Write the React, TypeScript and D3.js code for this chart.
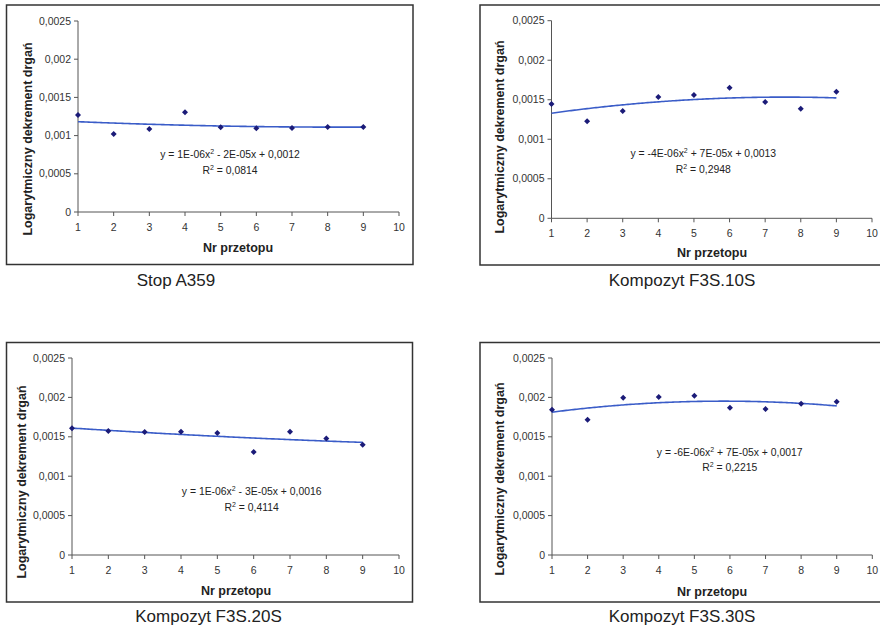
import React from "react";
import * as d3 from "d3";

// Melt number (Nr przetopu) and logarithmic damping decrement per material
const meltNumbers = [1, 2, 3, 4, 5, 6, 7, 8, 9];
const xTickValues = [1, 2, 3, 4, 5, 6, 7, 8, 9, 10];
const yTickValues = [0, 0.0005, 0.001, 0.0015, 0.002, 0.0025];
const yTickLabels = ["0", "0,0005", "0,001", "0,0015", "0,002", "0,0025"];

const stopA359 = [0.00127, 0.00102, 0.001086, 0.001305, 0.001108, 0.001095, 0.0011, 0.001113, 0.001113];
const f3s10s = [0.001446, 0.001227, 0.001357, 0.001535, 0.00156, 0.001653, 0.001471, 0.001387, 0.001602];
const f3s20s = [0.001607, 0.001574, 0.001561, 0.001565, 0.001548, 0.001307, 0.001565, 0.00148, 0.0014];
const f3s30s = [0.001844, 0.001717, 0.001997, 0.002005, 0.002022, 0.00187, 0.001853, 0.00192, 0.001946];

const captions = ["Stop A359", "Kompozyt F3S.10S", "Kompozyt F3S.20S", "Kompozyt F3S.30S"];
const equations = [
  ["y = 1E-06x", " - 2E-05x + 0,0012", "0,0814"],
  ["y = -4E-06x", " + 7E-05x + 0,0013", "0,2948"],
  ["y = 1E-06x", " - 3E-05x + 0,0016", "0,4114"],
  ["y = -6E-06x", " + 7E-05x + 0,0017", "0,2215"],
];

const FONT = "'Liberation Sans', Arial, sans-serif";
const MARKER = "#1b1b78";
const TREND = "#3a5cc8";
const AXIS = "#555";

// Least-squares quadratic fit (order-2 polynomial trendline)
function quadFit(xs: number[], ys: number[]) {
  const S = (p: number) => d3.sum(xs, (x) => Math.pow(x, p));
  const T = (p: number) => d3.sum(xs, (x, i) => Math.pow(x, p) * ys[i]);
  const A = [
    [S(4), S(3), S(2), T(2)],
    [S(3), S(2), S(1), T(1)],
    [S(2), S(1), xs.length, T(0)],
  ];
  for (let c = 0; c < 3; c++) {
    for (let r = c + 1; r < 3; r++) {
      const f = A[r][c] / A[c][c];
      for (let k = c; k < 4; k++) A[r][k] -= f * A[c][k];
    }
  }
  const sol = [0, 0, 0];
  for (let r = 2; r >= 0; r--) {
    let s = A[r][3];
    for (let k = r + 1; k < 3; k++) s -= A[r][k] * sol[k];
    sol[r] = s / A[r][r];
  }
  return (x: number) => sol[0] * x * x + sol[1] * x + sol[2];
}

type Layout = {
  box: [number, number, number, number];
  x0: number; x10: number; yTop: number; yBot: number;
  eqX: number; eqY: number;
  xtX: number; xtY: number;
  ytX: number; ytY: number;
  capX: number; capY: number;
};

const layouts: Layout[] = [
  { box: [6.5, 5, 406.5, 259.5], x0: 78, x10: 399, yTop: 21, yBot: 212, eqX: 230, eqY: 158, xtX: 238, xtY: 252, ytX: 28, ytY: 139, capX: 176, capY: 286 },
  { box: [480, 5, 410, 260], x0: 551.5, x10: 872, yTop: 20.7, yBot: 218.3, eqX: 703.3, eqY: 157.3, xtX: 712, xtY: 256.5, ytX: 500, ytY: 137, capX: 682, capY: 286 },
  { box: [6.5, 342.5, 406, 259.5], x0: 72, x10: 399, yTop: 358, yBot: 555, eqX: 251.7, eqY: 495, xtX: 236, xtY: 595, ytX: 22, ytY: 482, capX: 208.5, capY: 622 },
  { box: [480, 342.5, 410, 259.5], x0: 552, x10: 872.3, yTop: 358, yBot: 555, eqX: 729.7, eqY: 455.7, xtX: 712, xtY: 595.5, ytX: 500, ytY: 479, capX: 682, capY: 622 },
];

const seriesList = [stopA359, f3s10s, f3s20s, f3s30s];

function Panel({ values, L, caption, eq }: { values: number[]; L: Layout; caption: string; eq: string[] }) {
  const x = d3.scaleLinear().domain([1, 10]).range([L.x0, L.x10]);
  const y = d3.scaleLinear().domain([0, 0.0025]).range([L.yBot, L.yTop]);
  const fit = quadFit(meltNumbers, values);
  const fitX = d3.range(1, 9.0001, 0.05);
  const line = d3.line<number>().x((d) => x(d)).y((d) => y(fit(d)));
  const [bx, by, bw, bh] = L.box;
  return (
    <g fontFamily={FONT}>
      <rect x={bx} y={by} width={bw} height={bh} fill="white" stroke="#333" strokeWidth={1.5} />
      {/* axes */}
      <line x1={L.x0} x2={L.x0} y1={L.yTop} y2={L.yBot} stroke={AXIS} strokeWidth={1} />
      <line x1={L.x0} x2={L.x10} y1={L.yBot} y2={L.yBot} stroke={AXIS} strokeWidth={1} />
      {yTickValues.map((v, i) => (
        <g key={"y" + i}>
          <line x1={L.x0 - 4} x2={L.x0} y1={y(v)} y2={y(v)} stroke={AXIS} />
          <text x={L.x0 - 7} y={y(v)} dy="0.35em" textAnchor="end" fontSize={10.5} fill="#333">
            {yTickLabels[i]}
          </text>
        </g>
      ))}
      {xTickValues.map((v) => (
        <g key={"x" + v}>
          <line x1={x(v)} x2={x(v)} y1={L.yBot} y2={L.yBot + 4} stroke={AXIS} />
          <text x={x(v)} y={L.yBot + 19} textAnchor="middle" fontSize={10.5} fill="#333">
            {v}
          </text>
        </g>
      ))}
      <text x={L.xtX} y={L.xtY} textAnchor="middle" fontSize={12.5} fontWeight="bold" fill="#222">
        Nr przetopu
      </text>
      <text
        transform={`translate(${L.ytX},${L.ytY}) rotate(-90)`}
        textAnchor="middle"
        dominantBaseline="central"
        fontSize={12.5}
        fontWeight="bold"
        fill="#222"
      >
        Logarytmiczny dekrement drgań
      </text>
      {/* polynomial trendline */}
      <path d={line(fitX) || ""} fill="none" stroke={TREND} strokeWidth={1.6} />
      {values.map((v, i) => (
        <path
          key={"m" + i}
          transform={`translate(${x(meltNumbers[i])},${y(v)})`}
          d="M0,-3L3,0L0,3L-3,0Z"
          fill={MARKER}
        />
      ))}
      <text x={L.eqX} y={L.eqY} textAnchor="middle" fontSize={10.4} fill="#222">
        {eq[0]}
        <tspan fontSize={7} dy={-4}>2</tspan>
        <tspan dy={4}>{eq[1]}</tspan>
      </text>
      <text x={L.eqX} y={L.eqY + 15.5} textAnchor="middle" fontSize={10.4} fill="#222">
        R<tspan fontSize={7} dy={-4}>2</tspan>
        <tspan dy={4}>{" = " + eq[2]}</tspan>
      </text>
      <text x={L.capX} y={L.capY} textAnchor="middle" fontSize={17} fill="#222">
        {caption}
      </text>
    </g>
  );
}

export default function App() {
  return (
    <svg
      width={880}
      height={628}
      style={{ position: "absolute", left: 0, top: 0, background: "white" }}
    >
      <rect width={880} height={628} fill="white" />
      {seriesList.map((vals, i) => (
        <Panel key={i} values={vals} L={layouts[i]} caption={captions[i]} eq={equations[i]} />
      ))}
    </svg>
  );
}
